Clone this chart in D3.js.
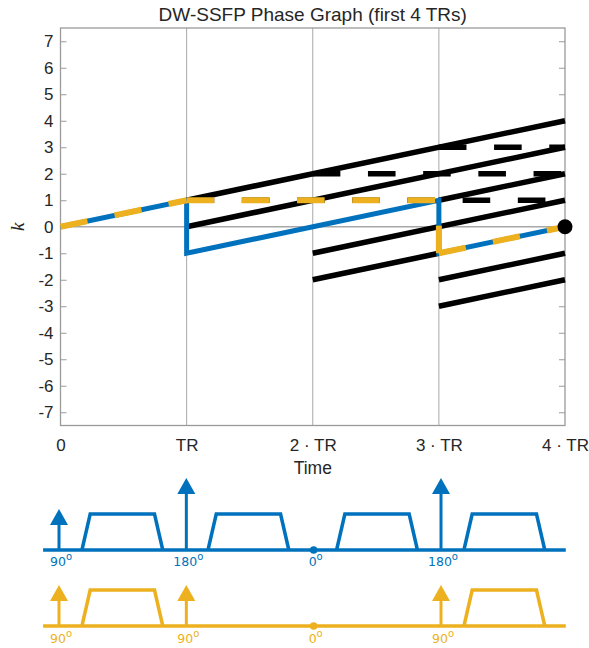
<!DOCTYPE html>
<html>
<head>
<meta charset="utf-8">
<script src="https://d3js.org/d3.v7.min.js"></script>
<style>
  html, body { margin: 0; padding: 0; background: #fff; }
  svg { display: block; }
</style>
</head>
<body>
<svg id="chart" width="589" height="648"></svg>
<script>
// ---------------- DATA ----------------
const titleText = "DW-SSFP Phase Graph (first 4 TRs)";
const xLabelText = "Time";
const yLabelText = "k";
const timeTicks = [0, 1, 2, 3, 4];
const timeTickLabels = ["0", "TR", "2 \u00B7 TR", "3 \u00B7 TR", "4 \u00B7 TR"];
const kTicks = [-7, -6, -5, -4, -3, -2, -1, 0, 1, 2, 3, 4, 5, 6, 7];
const gridTimes = [1, 2, 3];

// phase-graph paths, [time (TR), k]
const blueEchoPath = [[0, 0], [1, 1], [1, -1], [3, 1], [3, -1], [4, 0]];
const orangeEchoSegments = [
  [[0, 0], [1, 1]],
  [[1, 1], [3, 1]],
  [[3, -1], [3, 1]],
  [[3, -1], [4, 0]]
];
const blackSolidSegments = [
  [[1, 1], [4, 4]],
  [[1, 0], [4, 3]],
  [[2, -1], [4, 1]],
  [[2, -2], [3, -1]],
  [[3, 1], [4, 2]],
  [[3, -2], [4, -1]],
  [[3, -3], [4, -2]]
];
const blackDashedSegments = [
  [[1, 1], [4, 1]],
  [[2, 2], [4, 2]],
  [[3, 3], [4, 3]]
];
const echoPoint = [4, 0];

// sequence diagrams
const timelineExtent = [-0.125, 3.98];
const blueRF = [{t: 0, flip: 90}, {t: 1, flip: 180}, {t: 2, flip: 0}, {t: 3, flip: 180}];
const orangeRF = [{t: 0, flip: 90}, {t: 1, flip: 90}, {t: 2, flip: 0}, {t: 3, flip: 90}];
const blueGradStarts = [0.18, 1.17, 2.18, 3.18];
const orangeGradStarts = [0.18, 3.18];
const gradRamp = 0.065;
const gradFlat = 0.505;

// ---------------- STYLE ----------------
const BLUE = "#0072BD";
const ORANGE = "#EDB120";
const TEXT = "#262626";
const AXIS = "#9a9a9a";
const GRID = "#a8a8a8";
const sans = "'Liberation Sans', Arial, Helvetica, sans-serif";

const svg = d3.select("#chart");

const x = d3.scaleLinear().domain([0, 4]).range([60.5, 565]);
const y = d3.scaleLinear().domain([-7.5, 7.5]).range([425.5, 28]);

const line = d3.line().x(d => x(d[0])).y(d => y(d[1]));

// title
svg.append("text")
  .attr("x", (x(0) + x(4)) / 2).attr("y", 21)
  .attr("text-anchor", "middle")
  .attr("font-family", sans).attr("font-size", 19)
  .attr("fill", TEXT)
  .text(titleText);

// grid lines
svg.append("g").selectAll("line").data(gridTimes).join("line")
  .attr("x1", d => x(d)).attr("x2", d => x(d))
  .attr("y1", y(7.5)).attr("y2", y(-7.5))
  .attr("stroke", GRID).attr("stroke-width", 1);

svg.append("line")
  .attr("x1", x(0)).attr("x2", x(4))
  .attr("y1", y(0)).attr("y2", y(0))
  .attr("stroke", GRID).attr("stroke-width", 1.5);

// axes
const gLeft = svg.append("g").attr("transform", `translate(${x(0)},0)`)
  .call(d3.axisLeft(y).tickValues(kTicks).tickSize(-6).tickPadding(7).tickFormat(d => String(d)));
const gRight = svg.append("g").attr("transform", `translate(${x(4)},0)`)
  .call(d3.axisRight(y).tickValues(kTicks).tickSize(-6).tickFormat(""));
const gBottom = svg.append("g").attr("transform", `translate(0,${y(-7.5)})`)
  .call(d3.axisBottom(x).tickValues(timeTicks).tickSize(0).tickPadding(13)
    .tickFormat((d, i) => timeTickLabels[i]));

[gLeft, gRight, gBottom].forEach(g => {
  g.select(".domain").remove();
  g.selectAll(".tick line").attr("stroke", AXIS).attr("stroke-width", 1);
  g.selectAll("text").attr("font-family", sans).attr("font-size", 17).attr("fill", TEXT);
});

// axis box
svg.append("rect")
  .attr("x", x(0)).attr("y", y(7.5))
  .attr("width", x(4) - x(0)).attr("height", y(-7.5) - y(7.5))
  .attr("fill", "none").attr("stroke", AXIS).attr("stroke-width", 1.3);

// axis labels
svg.append("text")
  .attr("x", (x(0) + x(4)) / 2).attr("y", 474)
  .attr("text-anchor", "middle")
  .attr("font-family", sans).attr("font-size", 17.5).attr("fill", TEXT)
  .text(xLabelText);

svg.append("text")
  .attr("transform", `translate(24,${y(0)}) rotate(-90)`)
  .attr("text-anchor", "middle")
  .attr("font-family", "'Liberation Serif', 'DejaVu Serif', serif")
  .attr("font-style", "italic").attr("font-size", 19).attr("fill", TEXT)
  .text(yLabelText);

// phase graph lines
const plot = svg.append("g");

plot.selectAll("path.bs").data(blackSolidSegments).join("path")
  .attr("class", "bs")
  .attr("d", line).attr("fill", "none")
  .attr("stroke", "#000").attr("stroke-width", 5.5).attr("stroke-linecap", "butt");

plot.selectAll("path.bd").data(blackDashedSegments).join("path")
  .attr("class", "bd")
  .attr("d", line).attr("fill", "none")
  .attr("stroke", "#000").attr("stroke-width", 5.5)
  .attr("stroke-dasharray", "27.6,27.6");

plot.append("path").datum(blueEchoPath)
  .attr("d", line).attr("fill", "none")
  .attr("stroke", BLUE).attr("stroke-width", 5)
  .attr("stroke-linejoin", "miter");

plot.selectAll("path.od").data(orangeEchoSegments).join("path")
  .attr("class", "od")
  .attr("d", line).attr("fill", "none")
  .attr("stroke", ORANGE).attr("stroke-width", 6)
  .attr("stroke-dasharray", "27.6,27.6");

plot.append("circle")
  .attr("cx", x(echoPoint[0])).attr("cy", y(echoPoint[1]))
  .attr("r", 7.5).attr("fill", "#000");

// ---------------- SEQUENCE DIAGRAMS ----------------
const dx = d3.scaleLinear().domain([0, 3]).range([59, 441]);
const rfHeight = d3.scaleLinear().domain([0, 90, 180]).range([0, 41, 72]);
const gradHeight = d3.scaleLinear().domain([0, 1]).range([0, 36]);

function drawSequence(baseY, color, rf, grads, labelY) {
  const g = svg.append("g");
  // baseline
  g.append("line")
    .attr("x1", dx(timelineExtent[0])).attr("x2", dx(timelineExtent[1]))
    .attr("y1", baseY).attr("y2", baseY)
    .attr("stroke", color).attr("stroke-width", 3.5);
  // gradient lobes
  const trap = d3.line().x(d => dx(d[0])).y(d => baseY - gradHeight(d[1]));
  g.selectAll("path.grad").data(grads).join("path")
    .attr("class", "grad")
    .attr("d", s => trap([[s, 0], [s + gradRamp, 1], [s + gradRamp + gradFlat, 1], [s + 2 * gradRamp + gradFlat, 0]]))
    .attr("fill", "none").attr("stroke", color).attr("stroke-width", 3.5)
    .attr("stroke-linejoin", "miter");
  // RF pulses
  rf.forEach(p => {
    const px = dx(p.t);
    if (p.flip === 0) {
      g.append("circle").attr("cx", px).attr("cy", baseY).attr("r", 3.8).attr("fill", color);
    } else {
      const top = baseY - rfHeight(p.flip);
      g.append("line")
        .attr("x1", px).attr("x2", px).attr("y1", baseY).attr("y2", top + 14)
        .attr("stroke", color).attr("stroke-width", 3);
      g.append("path")
        .attr("d", `M${px},${top} L${px + 9},${top + 16} L${px - 9},${top + 16} Z`)
        .attr("fill", color);
    }
    const t = g.append("text")
      .attr("x", px + 2).attr("y", labelY)
      .attr("text-anchor", "middle")
      .attr("font-family", "'DejaVu Sans', Verdana, sans-serif")
      .attr("font-size", 12.5).attr("fill", color);
    t.append("tspan").text(String(p.flip));
    t.append("tspan").attr("dy", -6).attr("font-size", 10).text("o");
  });
}

drawSequence(550, BLUE, blueRF, blueGradStarts, 566);
drawSequence(626, ORANGE, orangeRF, orangeGradStarts, 643);
</script>
</body>
</html>
